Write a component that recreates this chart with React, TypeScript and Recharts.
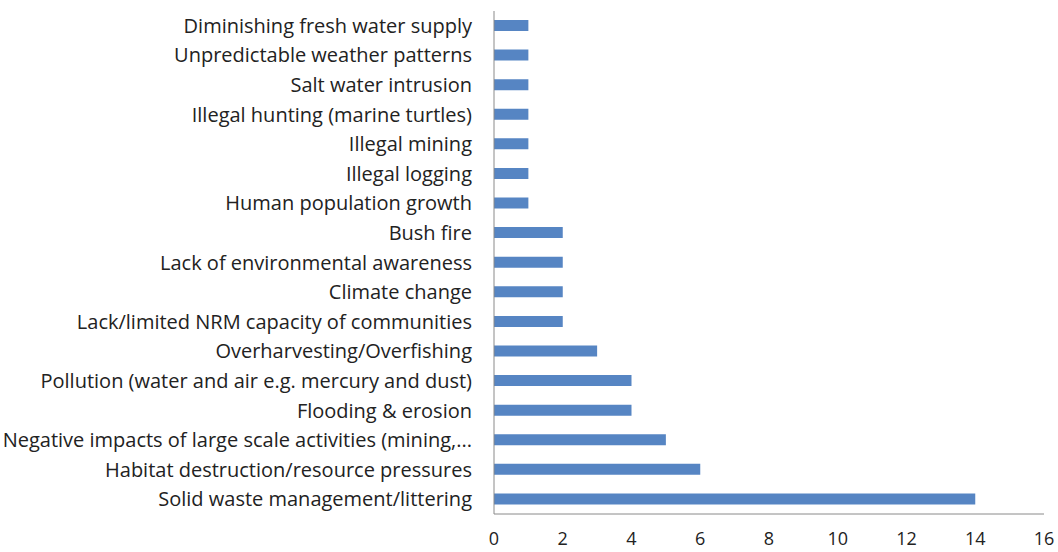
import { BarChart, Bar, XAxis, YAxis } from 'recharts'

// threats listed top to bottom, with number of mentions
const threats = [
  'Diminishing fresh water supply',
  'Unpredictable weather patterns',
  'Salt water intrusion',
  'Illegal hunting (marine turtles)',
  'Illegal mining',
  'Illegal logging',
  'Human population growth',
  'Bush fire',
  'Lack of environmental awareness',
  'Climate change',
  'Lack/limited NRM capacity of communities',
  'Overharvesting/Overfishing',
  'Pollution (water and air e.g. mercury and dust)',
  'Flooding & erosion',
  'Negative impacts of large scale activities (mining,...',
  'Habitat destruction/resource pressures',
  'Solid waste management/littering',
]
const mentions = [1, 1, 1, 1, 1, 1, 1, 2, 2, 2, 2, 3, 4, 4, 5, 6, 14]
const xTicks = [0, 2, 4, 6, 8, 10, 12, 14, 16]

const data = threats.map((name, i) => ({ name, count: mentions[i] }))

const font = '"Open Sans", sans-serif'

export default function App() {
  return (
    <div style={{ position: 'absolute', left: 0, top: 0, background: '#fff' }}>
      <BarChart
        width={1058}
        height={552}
        data={data}
        layout="vertical"
        margin={{ top: 11, right: 14, bottom: 0, left: 0 }}
      >
        <XAxis
          type="number"
          domain={[0, 16]}
          ticks={xTicks}
          interval={0}
          height={38}
          tickLine={false}
          tickSize={0}
          tickMargin={18}
          axisLine={{ stroke: '#8a8a8a' }}
          tick={{ fontSize: 18, fill: '#222', fontFamily: font }}
        />
        <YAxis
          type="category"
          dataKey="name"
          width={494}
          interval={0}
          tickLine={false}
          tickSize={0}
          tickMargin={22}
          axisLine={{ stroke: '#8a8a8a' }}
          tick={{ fontSize: 20, fill: '#222', fontFamily: font }}
        />
        <Bar dataKey="count" fill="#5685c3" barSize={11} isAnimationActive={false} />
      </BarChart>
    </div>
  )
}
